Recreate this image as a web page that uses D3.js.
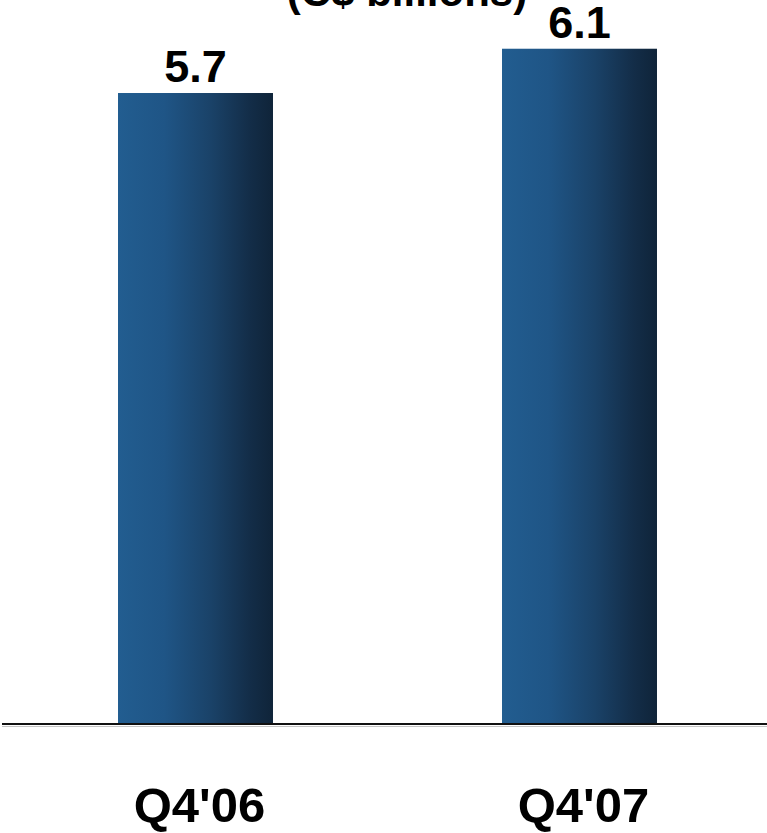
<!DOCTYPE html>
<html>
<head>
<meta charset="utf-8">
<script src="https://cdn.jsdelivr.net/npm/d3@7/dist/d3.min.js"></script>
<style>
  html, body { margin: 0; padding: 0; background: #fff; }
  svg { display: block; }
  text { font-family: "Liberation Sans", Arial, Helvetica, sans-serif; font-weight: bold; fill: #000; }
</style>
</head>
<body>
<svg id="chart" width="767" height="833"></svg>
<script>
// Quarterly totals, C$ billions
const categories = ["Q4'06", "Q4'07"];
const values = [5.7, 6.1];
const valueLabels = ["5.7", "6.1"];
const unitLabel = "(C$ billions)";

const W = 767, H = 833;
const baseY = 724;

const svg = d3.select("#chart");

// Horizontal gradient used to shade each column
const defs = svg.append("defs");
const grad = defs.append("linearGradient")
  .attr("id", "barShade")
  .attr("x1", "0%").attr("x2", "100%").attr("y1", "0%").attr("y2", "0%");
[
  [0.00, "#225d90"],
  [0.30, "#1f5586"],
  [0.60, "#1a4268"],
  [0.85, "#132d48"],
  [1.00, "#0f2439"]
].forEach(([o, c]) => grad.append("stop").attr("offset", o).attr("stop-color", c));

const x = d3.scaleBand()
  .domain(categories)
  .range([3.5, 771.5])
  .paddingInner(0.5964)
  .paddingOuter(0.2982);

const y = d3.scaleLinear()
  .domain([0, 6.5])
  .range([baseY, baseY - 6.5 * 110.7]);

// Units heading, partly above the visible area
svg.append("text")
  .attr("x", 407)
  .attr("y", 6)
  .attr("text-anchor", "middle")
  .style("font-size", "42px")
  .text(unitLabel);

// Columns
svg.selectAll("rect.bar")
  .data(values)
  .enter().append("rect")
  .attr("class", "bar")
  .attr("x", (d, i) => x(categories[i]))
  .attr("width", x.bandwidth())
  .attr("y", d => y(d))
  .attr("height", d => y(0) - y(d))
  .attr("fill", "url(#barShade)");

// Value labels above columns
svg.selectAll("text.val")
  .data(values)
  .enter().append("text")
  .attr("class", "val")
  .attr("x", (d, i) => x(categories[i]) + x.bandwidth() / 2)
  .attr("y", d => y(d) - 11)
  .attr("text-anchor", "middle")
  .style("font-size", "45px")
  .text((d, i) => valueLabels[i]);

// Baseline with a faint shadow beneath
svg.append("line")
  .attr("x1", 2).attr("x2", W)
  .attr("y1", baseY + 2.5).attr("y2", baseY + 2.5)
  .attr("stroke", "#c4c4c4").attr("stroke-width", 1);
svg.append("line")
  .attr("x1", 2).attr("x2", W)
  .attr("y1", y(0)).attr("y2", y(0))
  .attr("stroke", "#111").attr("stroke-width", 2);

// Category axis labels
const axis = d3.axisBottom(x).tickSize(0).tickPadding(0);
const gAxis = svg.append("g")
  .attr("transform", `translate(4, ${baseY})`)
  .call(axis);
gAxis.select(".domain").remove();
gAxis.selectAll(".tick text")
  .attr("y", 98)
  .attr("dy", 0)
  .attr("fill", "#000")
  .style("font-size", "49px")
  .style("font-family", "'Liberation Sans', Arial, Helvetica, sans-serif")
  .style("font-weight", "bold");
</script>
</body>
</html>
